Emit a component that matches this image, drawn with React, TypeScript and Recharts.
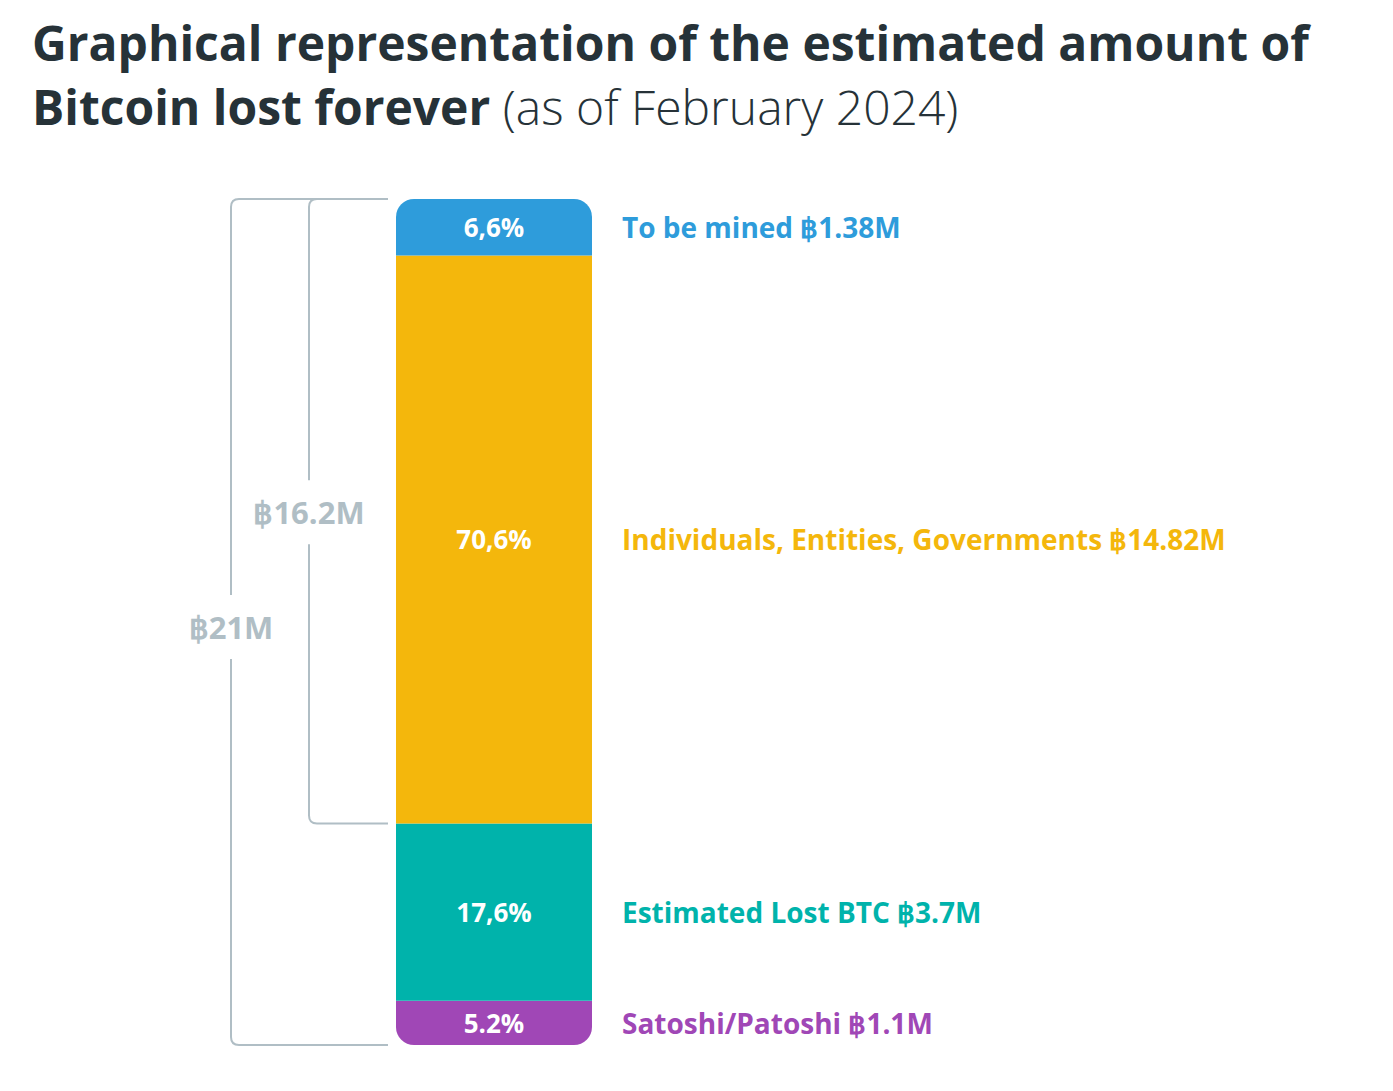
import { BarChart, Bar, XAxis, YAxis, LabelList, ReferenceArea } from 'recharts';

// segments from the bottom of the bar to the top
const segmentKeys = ['satoshi', 'lost', 'individuals', 'toBeMined'];
const segmentNames = ['Satoshi/Patoshi', 'Estimated Lost BTC', 'Individuals, Entities, Governments', 'To be mined'];
const segmentAmounts = ['฿1.1M', '฿3.7M', '฿14.82M', '฿1.38M'];
const segmentShares = ['5.2%', '17,6%', '70,6%', '6,6%'];
// heights as drawn in the picture (M BTC, bar total = 21M)
const segmentHeights = [1.1, 4.4, 14.1, 1.4];
const segmentColors = ['#A047B6', '#00B3AB', '#F4B70C', '#2E9CDB'];

const bracketLabels = ['฿21M', '฿16.2M'];

const total = segmentHeights.reduce((s, v) => s + v, 0);
const innerStart = segmentHeights[0] + segmentHeights[1];

const row: Record<string, string | number> = { name: 'BTC' };
segmentKeys.forEach((k, i) => {
  row[k] = segmentHeights[i];
});
const data = [row];

const FONT = '"Open Sans", sans-serif';
const GRAY = '#B0BEC5';

const makeBracket = (label: string, offset: number, gapHalf: number, labelShift: number) => (props: any) => {
  const { x, y, height } = props;
  if (x == null) return null;
  const xl = x - offset;
  const xr = x - 8;
  const top = y;
  const bottom = y + height;
  const r = 8;
  const mid = y + height / 2 + labelShift;
  const d =
    `M ${xr} ${top} H ${xl + r} Q ${xl} ${top} ${xl} ${top + r} V ${mid - gapHalf} ` +
    `M ${xl} ${mid + gapHalf} V ${bottom - r} Q ${xl} ${bottom} ${xl + r} ${bottom} H ${xr}`;
  return (
    <g>
      <path d={d} fill="none" stroke={GRAY} strokeWidth={2} />
      <text
        x={xl}
        y={mid}
        textAnchor="middle"
        dominantBaseline="central"
        fill={GRAY}
        fontFamily={FONT}
        fontWeight={700}
        fontSize={31}
      >
        {label}
      </text>
    </g>
  );
};

const sideLabel = (i: number) => (props: any) => {
  const { x, y, width, height } = props;
  return (
    <text
      x={x + width + 30}
      y={y + height / 2}
      textAnchor="start"
      dominantBaseline="central"
      fill={segmentColors[i]}
      fontFamily={FONT}
      fontWeight={700}
      fontSize={28}
    >
      {`${segmentNames[i]} ${segmentAmounts[i]}`}
    </text>
  );
};

const innerLabel = (i: number) => (props: any) => {
  const { x, y, width, height } = props;
  return (
    <text
      x={x + width / 2}
      y={y + height / 2}
      textAnchor="middle"
      dominantBaseline="central"
      fill="#FFFFFF"
      fontFamily={FONT}
      fontWeight={700}
      fontSize={26}
    >
      {segmentShares[i]}
    </text>
  );
};

export default function App() {
  const last = segmentKeys.length - 1;
  return (
    <div style={{ position: 'absolute', left: 0, top: 0, width: 1393, height: 1091, background: '#fff' }}>
      <div
        style={{
          position: 'absolute',
          left: 32,
          top: 11,
          fontFamily: FONT,
          fontSize: 48,
          lineHeight: '64px',
          color: '#263238',
          fontWeight: 700,
          whiteSpace: 'nowrap',
        }}
      >
        Graphical representation of the estimated amount of
        <br />
        Bitcoin lost forever <span style={{ fontWeight: 300 }}>(as of February 2024)</span>
      </div>
      <div style={{ position: 'absolute', left: 0, top: 0 }}>
        <BarChart
          width={1393}
          height={1091}
          data={data}
          margin={{ top: 199, bottom: 46, left: 396, right: 801 }}
          barCategoryGap={0}
        >
          <XAxis dataKey="name" type="category" hide />
          <YAxis type="number" domain={[0, total]} hide />
          <ReferenceArea y1={0} y2={total} fill="none" ifOverflow="visible" shape={makeBracket(bracketLabels[0], 165, 32, 5)} />
          <ReferenceArea y1={innerStart} y2={total} fill="none" ifOverflow="visible" shape={makeBracket(bracketLabels[1], 87, 32, 1)} />
          {segmentKeys.map((k, i) => (
            <Bar
              key={k}
              dataKey={k}
              stackId="btc"
              fill={segmentColors[i]}
              isAnimationActive={false}
              radius={i === 0 ? [0, 0, 18, 18] : i === last ? [18, 18, 0, 0] : 0}
            >
              <LabelList dataKey={k} content={innerLabel(i)} />
              <LabelList dataKey={k} content={sideLabel(i)} />
            </Bar>
          ))}
        </BarChart>
      </div>
    </div>
  );
}
